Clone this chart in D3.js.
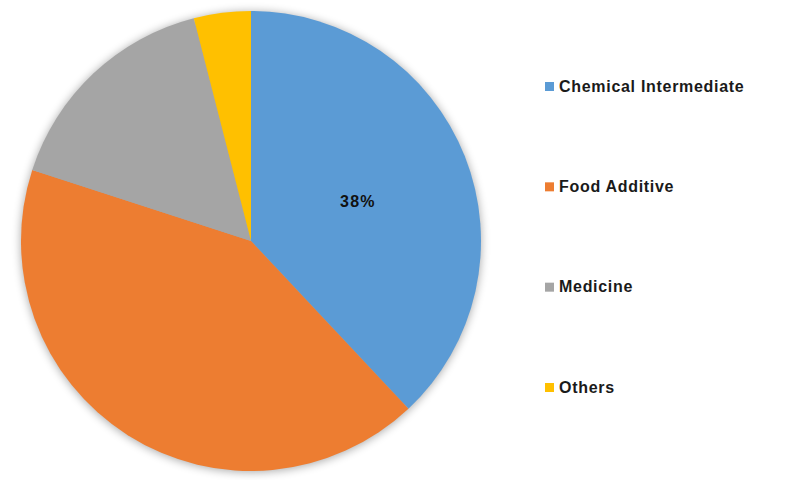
<!DOCTYPE html>
<html><head><meta charset="utf-8">
<script src="https://cdn.jsdelivr.net/npm/d3@7"></script>
<style>body{margin:0;background:#fff}svg{display:block}</style>
</head><body>
<svg id="c" width="800" height="480"></svg>
<script>
const categories = ["Chemical Intermediate", "Food Additive", "Medicine", "Others"];
const values = [38, 42, 16, 4];
const colors = ["#5B9BD5", "#ED7D31", "#A5A5A5", "#FFC000"];
const shownLabels = ["38%", "", "", ""];

const svg = d3.select("#c");
const cx = 251, cy = 241, R = 230;
const defs = svg.append("defs");
const f = defs.append("filter").attr("id","sh").attr("x","-20%").attr("y","-20%").attr("width","140%").attr("height","140%");
f.append("feGaussianBlur").attr("in","SourceAlpha").attr("stdDeviation",5).attr("result","b");
f.append("feOffset").attr("in","b").attr("dx",0).attr("dy",1).attr("result","o");
f.append("feComponentTransfer").attr("in","o").append("feFuncA").attr("type","linear").attr("slope",0.35);

const g = svg.append("g").attr("transform",`translate(${cx},${cy})`);
g.append("circle").attr("r",R).attr("fill","#000").attr("filter","url(#sh)");
const pie = d3.pie().sort(null).value(d=>d)(values);
const arc = d3.arc().innerRadius(0).outerRadius(R);
g.selectAll("path.s").data(pie).enter().append("path").attr("class","s")
  .attr("d",arc).attr("fill",(d,i)=>colors[i]);
g.selectAll("text.l").data(pie).enter().append("text").attr("class","l")
  .attr("transform",d=>`translate(${arc.centroid(d)})`)
  .attr("text-anchor","middle").attr("dy","0.55em")
  .style("font-family","Liberation Sans, Arial, sans-serif").style("font-weight","bold").style("font-size","16px")
  .style("letter-spacing","1.2px")
  .attr("fill","#111").text((d,i)=>shownLabels[i]);

const y = d3.scalePoint().domain(categories).range([86, 387]);
const lg = svg.append("g");
categories.forEach((c,i)=>{
  lg.append("rect").attr("x",545).attr("y",y(c)-4).attr("width",9).attr("height",9).attr("fill",colors[i]);
  lg.append("text").attr("x",559).attr("y",y(c)).attr("dy","0.35em")
    .style("font-family","Liberation Sans, Arial, sans-serif").style("font-weight","bold").style("font-size","16px")
    .style("letter-spacing","0.7px")
    .attr("fill","#1a1a1a").text(c);
});
</script>
</body></html>
